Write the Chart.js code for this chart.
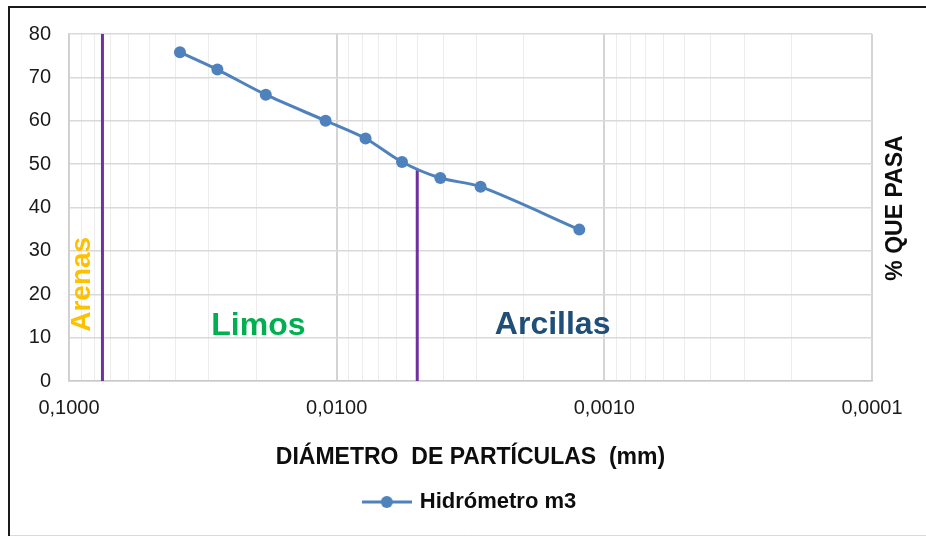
<!DOCTYPE html>
<html>
<head>
<meta charset="utf-8">
<script src="https://cdn.jsdelivr.net/npm/chart.js@4/dist/chart.umd.min.js"></script>
<style>
  html, body { margin: 0; padding: 0; background: #fff; }
  #wrap { width: 926px; height: 536px; }
</style>
</head>
<body>
<div id="wrap"><canvas id="c" width="926" height="536"></canvas></div>
<script>
// Hydrometer test: particle diameter (mm) vs. percent passing
const diameters = [0.0385, 0.0279, 0.0184, 0.0110, 0.0078, 0.0057, 0.0041, 0.0029, 0.00124];
const percentPassing = [75.8, 71.8, 66.0, 60.0, 55.9, 50.5, 46.8, 44.8, 34.9];
const seriesName = 'Hidrómetro m3';

// Log axis decades and their labels
const decades = [0.1, 0.01, 0.001, 0.0001];
const decadeLabels = ['0,1000', '0,0100', '0,0010', '0,0001'];

// Percent axis range
const yMin = 0, yMax = 80, yStep = 10;

// Soil classification limits: [diameter, from %, to %]
const sandSiltLimit = [0.075, 0, 80];
const siltClayLimit = [0.005, 0, 48.6];

// Zone names and their anchor (diameter, %)
const zoneNames = ['Arenas', 'Limos', 'Arcillas'];
const zoneDiameters = [0.089, 0.0196, 0.00156];
const zonePercents = [22.3, 12.6, 12.9];

const BLUE = '#4F81BD';
const PURPLE = '#7030A0';
const FONT = 'Arial, "Liberation Sans", Helvetica, sans-serif';
Chart.defaults.font.family = FONT;
Chart.defaults.color = '#1a1a1a';

// gridline positions: every 1..9 multiple of each decade
const gridValues = [];
decades.slice(1).forEach(d => {
  for (let m = 1; m <= 9; m++) gridValues.push(Number((m * d).toPrecision(3)));
});
gridValues.push(decades[0]);
const isDecade = v => decades.some(d => Math.abs(v - d) / d < 1e-6);

// legend marker: line with a dot in the middle
const legendMark = document.createElement('canvas');
legendMark.width = 50; legendMark.height = 14;
(() => {
  const g = legendMark.getContext('2d');
  g.strokeStyle = BLUE; g.lineWidth = 3;
  g.beginPath(); g.moveTo(0, 7); g.lineTo(50, 7); g.stroke();
  g.fillStyle = BLUE;
  g.beginPath(); g.arc(25, 7, 6, 0, Math.PI * 2); g.fill();
})();

const zoneStyles = [
  { color: '#FFC000', size: 28, rotate: true },
  { color: '#00B050', size: 32, rotate: false },
  { color: '#1F4E79', size: 32, rotate: false }
];

const decor = {
  id: 'decor',
  beforeDraw(chart) {
    const ctx = chart.ctx;
    ctx.save();
    ctx.fillStyle = '#fff';
    ctx.fillRect(0, 0, chart.width, chart.height);
    // outer frame
    ctx.strokeStyle = '#d9d9d9'; ctx.lineWidth = 1;
    ctx.beginPath(); ctx.moveTo(9, 535.5); ctx.lineTo(926, 535.5); ctx.stroke();
    ctx.strokeStyle = '#1a1a1a'; ctx.lineWidth = 2;
    ctx.beginPath(); ctx.moveTo(9, 536); ctx.lineTo(9, 7); ctx.lineTo(926, 7); ctx.stroke();
    ctx.restore();
  },
  afterDraw(chart) {
    const ctx = chart.ctx;
    const xs = chart.scales.x, ys = chart.scales.y;
    ctx.save();
    ctx.textAlign = 'center';
    ctx.textBaseline = 'middle';
    zoneNames.forEach((name, i) => {
      const st = zoneStyles[i];
      const px = xs.getPixelForValue(zoneDiameters[i]);
      const py = ys.getPixelForValue(zonePercents[i]);
      ctx.font = 'bold ' + st.size + 'px ' + FONT;
      ctx.fillStyle = st.color;
      ctx.save();
      ctx.translate(px, py);
      if (st.rotate) ctx.rotate(-Math.PI / 2);
      ctx.fillText(name, 0, 0);
      ctx.restore();
    });
    // percent-axis title on the right side
    ctx.font = 'bold 23px ' + FONT;
    ctx.fillStyle = '#0d0d0d';
    ctx.translate(896, 208);
    ctx.rotate(-Math.PI / 2);
    ctx.fillText('% QUE PASA', 0, 0);
    ctx.restore();
  }
};

const points = diameters.map((d, i) => ({ x: d, y: percentPassing[i] }));
const limitLine = l => [{ x: l[0], y: l[1] }, { x: l[0], y: l[2] }];

new Chart(document.getElementById('c'), {
  type: 'line',
  data: {
    datasets: [
      {
        label: seriesName,
        data: points,
        borderColor: BLUE,
        backgroundColor: BLUE,
        borderWidth: 3,
        pointRadius: 6,
        pointHoverRadius: 6,
        pointBorderWidth: 0,
        pointStyle: 'circle',
        tension: 0.3,
        order: 0
      },
      {
        label: 'limite arena-limo',
        data: limitLine(sandSiltLimit),
        borderColor: PURPLE,
        borderWidth: 3,
        pointRadius: 0,
        order: 1
      },
      {
        label: 'limite limo-arcilla',
        data: limitLine(siltClayLimit),
        borderColor: PURPLE,
        borderWidth: 3,
        pointRadius: 0,
        order: 1
      }
    ]
  },
  options: {
    responsive: false,
    animation: false,
    devicePixelRatio: 1,
    layout: { padding: { left: 9, right: 54, top: 34, bottom: 13 } },
    scales: {
      x: {
        type: 'logarithmic',
        reverse: true,
        min: decades[decades.length - 1],
        max: decades[0],
        afterBuildTicks: scale => {
          scale.ticks = gridValues.map(v => ({ value: v, major: isDecade(v) }));
        },
        afterFit: scale => { scale.height = 100; },
        ticks: {
          autoSkip: false,
          maxRotation: 0,
          padding: 15,
          color: '#1a1a1a',
          font: { size: 20 },
          callback: v => {
            const i = decades.findIndex(d => Math.abs(v - d) / d < 1e-6);
            return i >= 0 ? decadeLabels[i] : '';
          }
        },
        grid: {
          drawTicks: false,
          color: c => (c.tick && c.tick.major) ? '#d4d4d4' : '#ececec',
          lineWidth: c => (c.tick && c.tick.major) ? 2 : 1
        },
        border: { color: '#c8c8c8', width: 1.5 },
        title: {
          display: true,
          text: 'DIÁMETRO  DE PARTÍCULAS  (mm)',
          color: '#0d0d0d',
          font: { size: 23, weight: 'bold' },
          padding: { top: 0, bottom: 10 }
        }
      },
      y: {
        min: yMin,
        max: yMax,
        afterFit: scale => { scale.width = 60; },
        ticks: {
          stepSize: yStep,
          padding: 18,
          color: '#1a1a1a',
          font: { size: 20 }
        },
        grid: { drawTicks: false, color: '#d9d9d9', lineWidth: 1.5 },
        border: { color: '#d0d0d0', width: 1.5 }
      }
    },
    plugins: {
      tooltip: { enabled: false },
      legend: {
        position: 'bottom',
        fullSize: false,
        labels: {
          usePointStyle: true,
          pointStyleWidth: 44,
          padding: 10,
          color: '#0d0d0d',
          font: { size: 22, weight: 'bold' },
          filter: item => item.datasetIndex === 0,
          generateLabels: chart => {
            const items = Chart.defaults.plugins.legend.labels.generateLabels(chart);
            return items.map(it => Object.assign(it, { pointStyle: legendMark }));
          }
        }
      }
    }
  },
  plugins: [decor]
});
</script>
</body>
</html>
